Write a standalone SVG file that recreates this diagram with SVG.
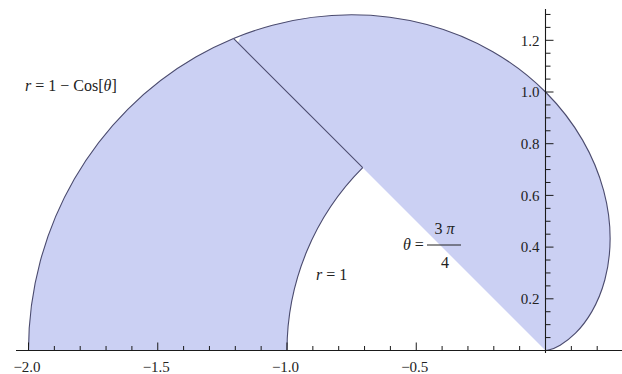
<svg xmlns="http://www.w3.org/2000/svg" width="622" height="374" viewBox="0 0 622 374">
<style>
.fill{fill:#cbd0f3;stroke:none}
.curve{fill:none;stroke:#4b4b6e;stroke-width:1.1;stroke-linejoin:round}
.axis{fill:none;stroke:#1a1a1a;stroke-width:1.1}
.tick{fill:none;stroke:#1a1a1a;stroke-width:1}
text{font-family:"Liberation Serif","Times New Roman",serif;fill:#222}
.tl{font-size:15px}
.lab{font-size:16px}
.it{font-style:italic}
</style>
<defs>
<path id="cardioid-right" d="M545.5,350.5 C545.5,350.5 546.84,350.5 549.37,349.82 C551.9,349.14 555.63,347.78 560.15,345.17 C564.67,342.56 569.99,338.69 575.49,333.18 C581,327.68 586.69,320.54 591.83,311.63 C596.97,302.72 601.57,292.04 604.86,279.76 C608.15,267.48 610.13,253.61 610.13,238.57 C610.13,223.53 608.14,207.33 603.67,190.67 C599.21,174.01 592.26,156.87 582.59,140.13 C572.92,123.39 560.54,107.04 545.5,92 C530.46,76.96 512.77,63.24 492.82,51.72 C472.87,40.2 450.65,30.89 426.85,24.51 C403.05,18.13 377.67,14.7 351.62,14.7 C325.57,14.7 298.86,18.14 272.53,25.19 C259.37,28.72 246.3,33.14 233.46,38.46"/>
</defs>
<rect width="622" height="374" fill="#ffffff"/>
<g id="region-right">
<path class="fill" d="M545.5,350.5 C545.5,350.5 546.84,350.5 549.37,349.82 C551.9,349.14 555.63,347.78 560.15,345.17 C564.67,342.56 569.99,338.69 575.49,333.18 C581,327.68 586.69,320.54 591.83,311.63 C596.97,302.72 601.57,292.04 604.86,279.76 C608.15,267.48 610.13,253.61 610.13,238.57 C610.13,223.53 608.14,207.33 603.67,190.67 C599.21,174.01 592.26,156.87 582.59,140.13 C572.92,123.39 560.54,107.04 545.5,92 C530.46,76.96 512.77,63.24 492.82,51.72 C472.87,40.2 450.65,30.89 426.85,24.51 C403.05,18.13 377.67,14.7 351.62,14.7 C325.57,14.7 298.86,18.14 272.53,25.19 C259.37,28.72 246.3,33.14 233.46,38.46 Z"/>
</g>
<g id="region-left">
<path class="fill" d="M233.46,38.46 C220.62,43.78 208.02,49.98 195.78,57.05 C171.3,71.18 148.3,88.78 127.76,109.32 C107.22,129.86 89.14,153.36 74.33,179.01 C59.52,204.66 47.98,232.47 40.22,261.41 C32.47,290.35 28.5,320.42 28.5,350.5 L287,350.5 A258.5,258.5 0 0 1 362.71,167.71 Z"/>
</g>
<g id="gap">
<polygon points="234.2,38.7 241,36.4 237.9,42.6" fill="#ffffff"/>
</g>
<g id="boundaries">
<use href="#cardioid-right" class="curve"/>
<path class="curve" d="M233.46,38.46 C220.62,43.78 208.02,49.98 195.78,57.05 C171.3,71.18 148.3,88.78 127.76,109.32 C107.22,129.86 89.14,153.36 74.33,179.01 C59.52,204.66 47.98,232.47 40.22,261.41 C32.47,290.35 28.5,320.42 28.5,350.5"/>
<path class="curve" d="M287,350.5 A258.5,258.5 0 0 1 362.71,167.71"/>
<line class="curve" x1="362.71" y1="167.71" x2="233.46" y2="38.46"/>
</g>
<g id="axes">
<line class="axis" x1="16" y1="350.5" x2="622" y2="350.5"/>
<line class="axis" x1="545.5" y1="9" x2="545.5" y2="353"/>
<path class="tick" d="M28.5,350.5V342.5M157.75,350.5V342.5M287,350.5V342.5M416.25,350.5V342.5
M54.35,350.5V346M80.2,350.5V346M106.05,350.5V346M131.9,350.5V346M183.6,350.5V346M209.45,350.5V346M235.3,350.5V346M261.15,350.5V346M312.85,350.5V346M338.7,350.5V346M364.55,350.5V346M390.4,350.5V346M442.1,350.5V346M467.95,350.5V346M493.8,350.5V346M519.65,350.5V346M571.35,350.5V346M597.2,350.5V346"/>
<path class="tick" d="M545.5,298.8H553.5M545.5,247.1H553.5M545.5,195.4H553.5M545.5,143.7H553.5M545.5,92H553.5M545.5,40.3H553.5
M545.5,337.58H550.5M545.5,324.65H550.5M545.5,311.73H550.5M545.5,285.88H550.5M545.5,272.95H550.5M545.5,260.03H550.5M545.5,234.18H550.5M545.5,221.25H550.5M545.5,208.33H550.5M545.5,182.48H550.5M545.5,169.55H550.5M545.5,156.63H550.5M545.5,130.78H550.5M545.5,117.85H550.5M545.5,104.93H550.5M545.5,79.08H550.5M545.5,66.15H550.5M545.5,53.23H550.5M545.5,27.38H550.5M545.5,14.45H550.5"/>
<g class="tl" text-anchor="middle">
<text x="27" y="372">−2.0</text>
<text x="156.25" y="372">−1.5</text>
<text x="285.5" y="372">−1.0</text>
<text x="414.75" y="372">−0.5</text>
</g>
<g class="tl" text-anchor="end">
<text x="539.5" y="304">0.2</text>
<text x="539.5" y="252.3">0.4</text>
<text x="539.5" y="200.6">0.6</text>
<text x="539.5" y="148.9">0.8</text>
<text x="539.5" y="97.2">1.0</text>
<text x="539.5" y="45.5">1.2</text>
</g>
</g>
<g id="labels">
<text class="lab" x="25" y="90.5"><tspan class="it">r</tspan> = 1 − Cos[<tspan class="it">θ</tspan>]</text>
<text class="lab" x="316" y="279.5"><tspan class="it">r</tspan> = 1</text>
<text class="lab" x="403" y="249.5"><tspan class="it">θ</tspan> =</text>
<text class="lab" x="444.5" y="234" text-anchor="middle">3 <tspan class="it">π</tspan></text>
<line x1="427" y1="245" x2="461" y2="245" stroke="#222" stroke-width="1"/>
<text class="lab" x="445" y="267.5" text-anchor="middle">4</text>
</g>
</svg>
